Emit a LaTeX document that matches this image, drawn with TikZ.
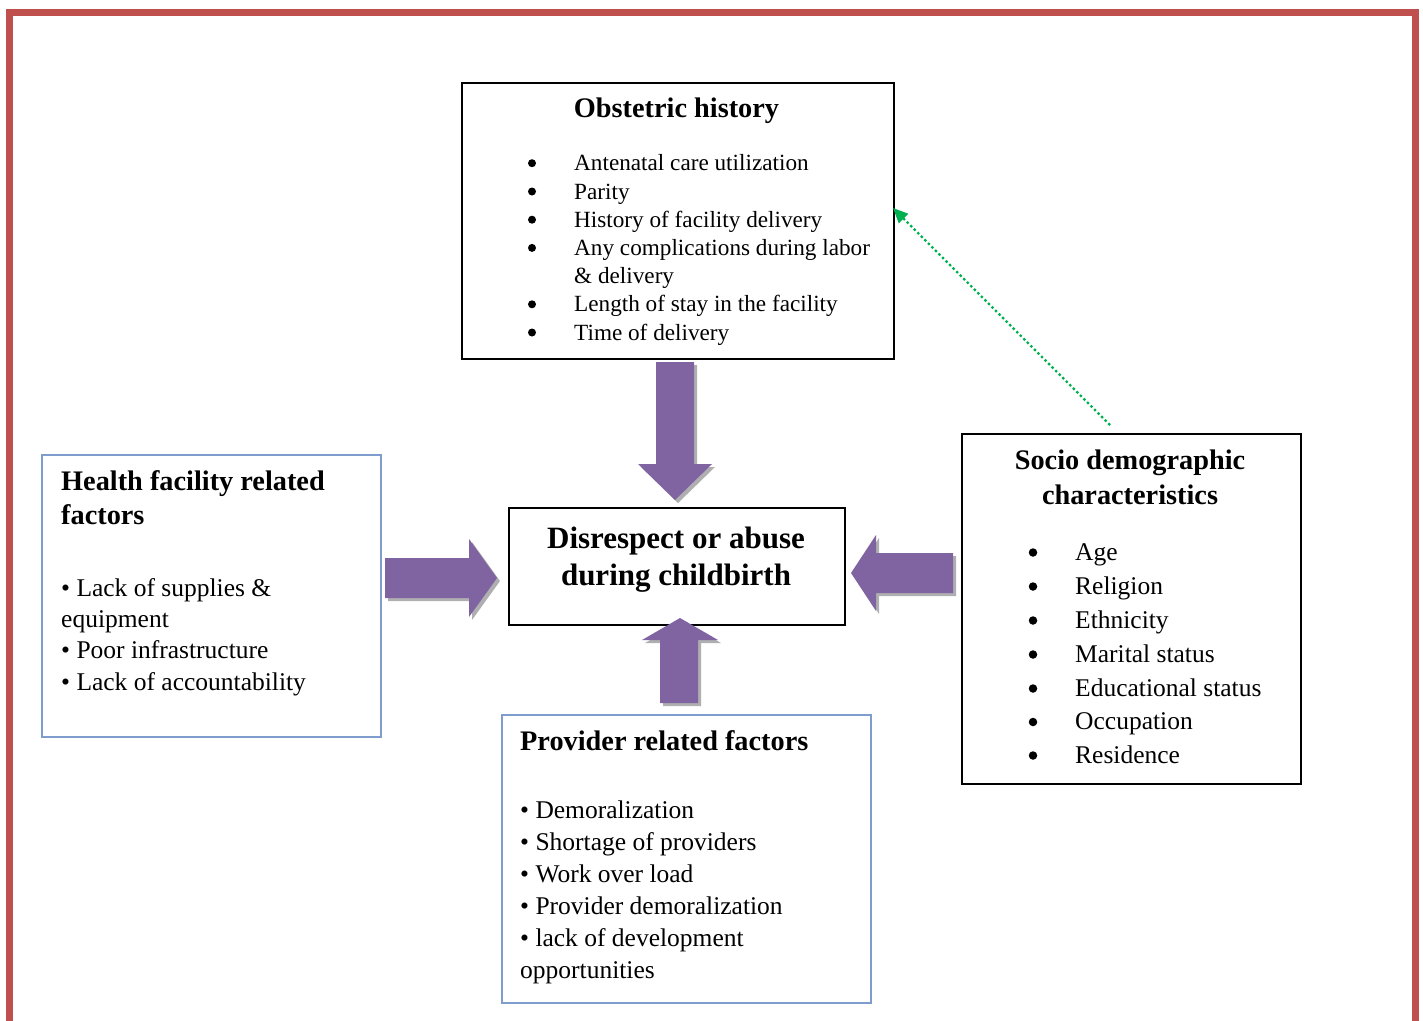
\documentclass[tikz,border=0pt]{standalone}
\usepackage{fontspec}
\setmainfont{Liberation Serif}
\usetikzlibrary{arrows.meta}
\definecolor{framered}{RGB}{192,80,77}
\definecolor{boxblue}{RGB}{126,157,204}
\definecolor{arrpurple}{RGB}{128,100,162}
\definecolor{shadgray}{RGB}{175,175,178}
\definecolor{dotgreen}{RGB}{0,176,80}
\tikzset{
  blackbox/.style={draw=black, line width=2pt, inner sep=0pt, anchor=north west},
  bluebox/.style={draw=boxblue, line width=2pt, inner sep=0pt, anchor=north west},
  ttl/.style={inner sep=0pt, font=\fontsize{28.3}{34}\selectfont\bfseries},
  smalltxt/.style={inner sep=0pt, anchor=base west, font=\fontsize{23.2}{28}\selectfont},
  bigtxt/.style={inner sep=0pt, anchor=base west, font=\fontsize{25.5}{31}\selectfont},
  bigdot/.style={circle, fill=black, inner sep=0pt, minimum size=#1},
  shad/.style={fill=shadgray},
  purp/.style={fill=arrpurple},
  greenlink/.style={draw=dotgreen, line width=2.4pt, dash pattern=on 2.4pt off 2.6pt, -{Triangle[length=15pt,width=13pt]}}
}
\begin{document}
\begin{tikzpicture}[x=1pt,y=-1pt]
\useasboundingbox (0,0) rectangle (1423,1020);
% frame
\begin{scope}
\clip (0,0) rectangle (1423,1020);
\draw[framered, line width=7pt] (9.5,1030) -- (9.5,12.7) -- (1415,12.7) -- (1415,1030);
\end{scope}

% boxes
\node[blackbox, minimum width=432pt, minimum height=276pt] (obst) at (461,82) {};
\node[bluebox, minimum width=339pt, minimum height=282pt] (hfac) at (41,454) {};
\node[blackbox, minimum width=336pt, minimum height=117pt] (core) at (508,507) {};
\node[blackbox, minimum width=339pt, minimum height=350pt] (socio) at (961,433) {};
\node[bluebox, minimum width=369pt, minimum height=288pt] (prov) at (501,714) {};

% obstetric history
\node[ttl, anchor=base] (obt) at (676.5,117.7) {Obstetric history};
\foreach \n/\y/\t in {o1/170.7/Antenatal care utilization, o2/199/Parity, o3/227.2/History of facility delivery, o4/255.4/Any complications during labor, o6/311.8/Length of stay in the facility, o7/340/Time of delivery}{
  \node[smalltxt] (\n) at (574,\y) {\t};
  \node[bigdot=8pt] (\n b) at (532,\y-7.5) {};
}
\node[smalltxt] (o5) at (574,283.6) {\& delivery};

% health facility
\node[ttl, anchor=base west] (hft1) at (61,490.7) {Health facility related};
\node[ttl, anchor=base west] (hft2) at (61,524) {factors};
\node[bigtxt] (h1) at (61,596.7) {• Lack of supplies \&};
\node[bigtxt] (h2) at (61,627.8) {equipment};
\node[bigtxt] (h3) at (61,658.9) {• Poor infrastructure};
\node[bigtxt] (h4) at (61,690) {• Lack of accountability};

% core
\node[inner sep=0pt, anchor=base, font=\fontsize{31}{37}\selectfont\bfseries] (c1) at (676,548) {Disrespect or abuse};
\node[inner sep=0pt, anchor=base, font=\fontsize{31}{37}\selectfont\bfseries] (c2) at (676,585) {during childbirth};

% socio demographic
\node[ttl, anchor=base] (st1) at (1130,469) {Socio demographic};
\node[ttl, anchor=base] (st2) at (1130,504) {characteristics};
\foreach \n/\y/\t in {s1/560/Age, s2/594/Religion, s3/628/Ethnicity, s4/662/Marital status, s5/696/Educational status, s6/729.5/Occupation, s7/763/Residence}{
  \node[bigtxt] (\n) at (1075,\y) {\t};
  \node[bigdot=8.5pt] (\n b) at (1033,\y-7.5) {};
}

% provider
\node[ttl, anchor=base west] (pt) at (520,750.7) {Provider related factors};
\node[bigtxt] (p1) at (520,818.3) {• Demoralization};
\node[bigtxt] (p2) at (520,850.3) {• Shortage of providers};
\node[bigtxt] (p3) at (520,882.3) {• Work over load};
\node[bigtxt] (p4) at (520,914.3) {• Provider demoralization};
\node[bigtxt] (p5) at (520,946.3) {• lack of development};
\node[bigtxt] (p6) at (520,978.3) {opportunities};

% block arrows (shadow then arrow)
\foreach \st/\d in {shad/3, purp/0}{
  \fill[\st, shift={(\d,\d)}] (656,362) -- (694,362) -- (694,464) -- (712,464) -- (675,500) -- (638,464) -- (656,464) -- cycle;
  \fill[\st, shift={(\d,\d)}] (385,558) -- (469,558) -- (469,539) -- (497,578) -- (469,617) -- (469,598) -- (385,598) -- cycle;
  \fill[\st, shift={(\d,\d)}] (953,553) -- (876,553) -- (876,535) -- (851,573) -- (876,611) -- (876,593) -- (953,593) -- cycle;
  \fill[\st, shift={(\d,\d)}] (660,703) -- (660,640) -- (642,640) -- (680,618) -- (718,640) -- (698,640) -- (698,703) -- cycle;
}

% green dotted link
\coordinate (gtail) at (1110,425);
\coordinate (gtip) at (893,208);
\draw[greenlink] (gtail) -- (gtip);
\end{tikzpicture}
\end{document}
